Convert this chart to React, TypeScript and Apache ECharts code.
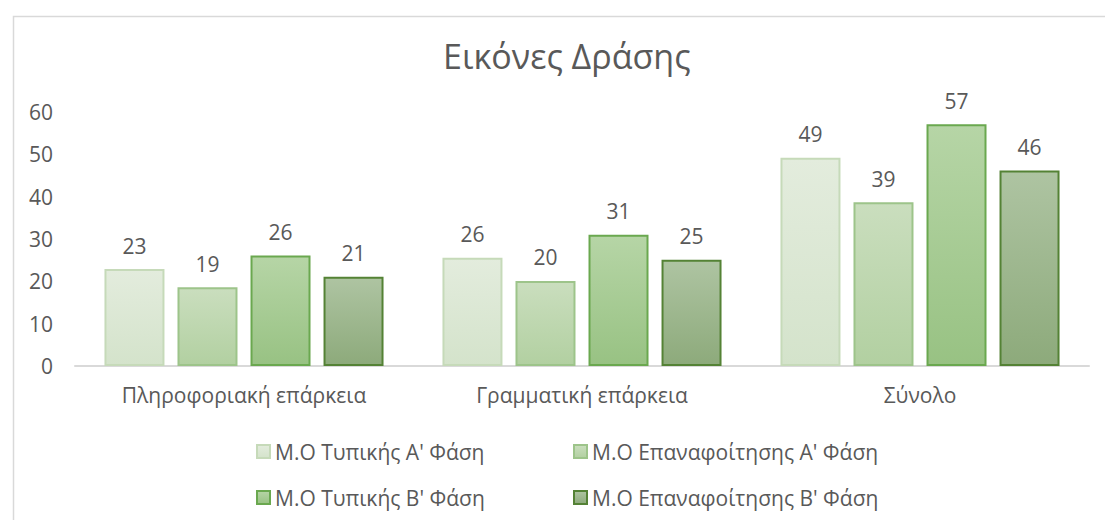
import React, { useEffect, useRef } from "react";
import * as echarts from "echarts";

const titleText = "Εικόνες Δράσης";
const categories = ["Πληροφοριακή επάρκεια", "Γραμματική επάρκεια", "Σύνολο"];
const seriesNames = [
  "Μ.Ο Τυπικής Α' Φάση",
  "Μ.Ο Επαναφοίτησης Α' Φάση",
  "Μ.Ο Τυπικής Β' Φάση",
  "Μ.Ο Επαναφοίτησης Β' Φάση",
];
const typicalA = [22.9, 25.6, 49.2];
const repeatA = [18.6, 20.1, 38.7];
const typicalB = [26.1, 31.0, 57.1];
const repeatB = [21.1, 25.1, 46.2];
const yTicks = { min: 0, max: 60, interval: 10 };

const fills = [
  ["#e3ecdd", "#d4e3cb", "#c6dab9"],
  ["#cadebe", "#b2d0a1", "#9dc48a"],
  ["#b6d5a6", "#98c283", "#6aa84f"],
  ["#aec4a2", "#8daa7b", "#548235"],
];

const FONT = "'Open Sans', 'DejaVu Sans', sans-serif";
const GREY = "#595959";

export default function App() {
  const ref = useRef<HTMLDivElement>(null);
  useEffect(() => {
    if (!ref.current) return;
    const chart = echarts.init(ref.current, null, { renderer: "svg" });
    const data = [typicalA, repeatA, typicalB, repeatB];
    const grad = (i: number) =>
      new echarts.graphic.LinearGradient(0, 0, 0, 1, [
        { offset: 0, color: fills[i][0] },
        { offset: 1, color: fills[i][1] },
      ]);
    const legendPos = [
      { left: 256, top: 441 },
      { left: 573, top: 441 },
      { left: 256, top: 487 },
      { left: 573, top: 487 },
    ];
    chart.setOption({
      animation: false,
      textStyle: { fontFamily: FONT },
      title: {
        text: titleText,
        left: 438,
        top: 34,
        textStyle: { fontFamily: FONT, fontSize: 34, fontWeight: "normal", color: GREY },
      },
      graphic: [
        {
          type: "rect",
          left: 11,
          top: 14,
          shape: { width: 1200, height: 600 },
          style: { fill: "none", stroke: "#d9d9d9", lineWidth: 1.5 },
          silent: true,
        },
      ],
      legend: seriesNames.map((n, i) => ({
        data: [n],
        left: legendPos[i].left,
        top: legendPos[i].top,
        padding: 0,
        itemWidth: 13,
        itemHeight: 13,
        itemGap: 5,
        icon: "rect",
        textStyle: { fontFamily: FONT, fontSize: 21, color: GREY },
        selectedMode: false,
      })),
      grid: { left: 75, right: 16, top: 112, bottom: 154, containLabel: false },
      xAxis: {
        type: "category",
        data: categories,
        axisLine: { lineStyle: { color: "#d9d9d9", width: 2 } },
        axisTick: { show: false },
        axisLabel: { color: GREY, fontSize: 21, fontFamily: FONT, margin: 18 },
      },
      yAxis: {
        type: "value",
        min: yTicks.min,
        max: yTicks.max,
        interval: yTicks.interval,
        splitLine: { show: false },
        axisLine: { show: false },
        axisTick: { show: false },
        axisLabel: { color: GREY, fontSize: 21, fontFamily: FONT, margin: 22 },
      },
      series: seriesNames.map((n, i) => ({
        name: n,
        type: "bar",
        data: data[i],
        barWidth: 60,
        barGap: "21.7%",
        itemStyle: { color: grad(i), borderColor: fills[i][2], borderWidth: 2 },
        label: {
          show: true,
          position: "top",
          distance: 13,
          color: GREY,
          fontSize: 21,
          fontFamily: FONT,
          formatter: (p: any) => String(Math.round(p.value)),
        },
      })),
    });
    return () => chart.dispose();
  }, []);
  return (
    <div
      ref={ref}
      style={{ position: "fixed", left: 0, top: 0, width: 1105, height: 520, background: "#fff" }}
    />
  );
}
